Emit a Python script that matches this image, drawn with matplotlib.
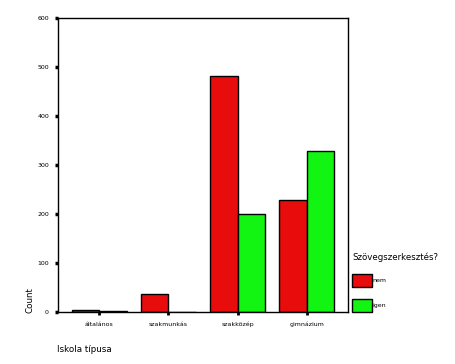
import numpy as np
import matplotlib
matplotlib.use('Agg')
import matplotlib.pyplot as plt

categories = ['általános', 'szakmunkás', 'szakközép', 'gimnázium']
nem = [5, 37, 482, 229]
igen = [3, 1, 200, 328]
series_names = ['nem', 'igen']
colors = ['#e80c0c', '#12f412']

fig = plt.figure(figsize=(4.55, 3.64), dpi=100)
ax = fig.add_axes([58/455, 52/364, 290/455, 294/364])

x = np.arange(len(categories))
w = 0.4
b1 = ax.bar(x - w/2, nem, w, color=colors[0], edgecolor='black', linewidth=1.0, label=series_names[0])
b2 = ax.bar(x + w/2, igen, w, color=colors[1], edgecolor='black', linewidth=1.0, label=series_names[1])

ax.set_xlim(-0.6, 3.6)
ax.set_ylim(0, 600)
ax.set_yticks(range(0, 601, 100))
ax.set_xticks(x)
ax.set_xticklabels(categories)
ax.tick_params(axis='y', length=2.5, width=2.5, labelsize=4.5, pad=4)
ax.tick_params(axis='x', length=2, width=2, labelsize=4.5, pad=5)
for s in ax.spines.values():
    s.set_linewidth(1.0)

fig.text(30/455, 1 - 300/364, 'Count', rotation=90, fontsize=6.3, ha='center', va='center')
fig.text(57/455, 1 - 350/364, 'Iskola típusa', fontsize=6.3, ha='left', va='center')

leg = fig.legend(handles=[b1, b2], labels=series_names, title='Szövegszerkesztés?',
                 loc='upper left', bbox_to_anchor=(352/455, 1 - 252/364),
                 frameon=False, fontsize=4.5, title_fontsize=6.2,
                 handlelength=3.2, handleheight=2.8, labelspacing=1.9,
                 handletextpad=0.1, borderaxespad=0, borderpad=0)
leg._legend_box.align = 'left'
leg._legend_box.sep = 9

fig.savefig('out.png', dpi=100)
